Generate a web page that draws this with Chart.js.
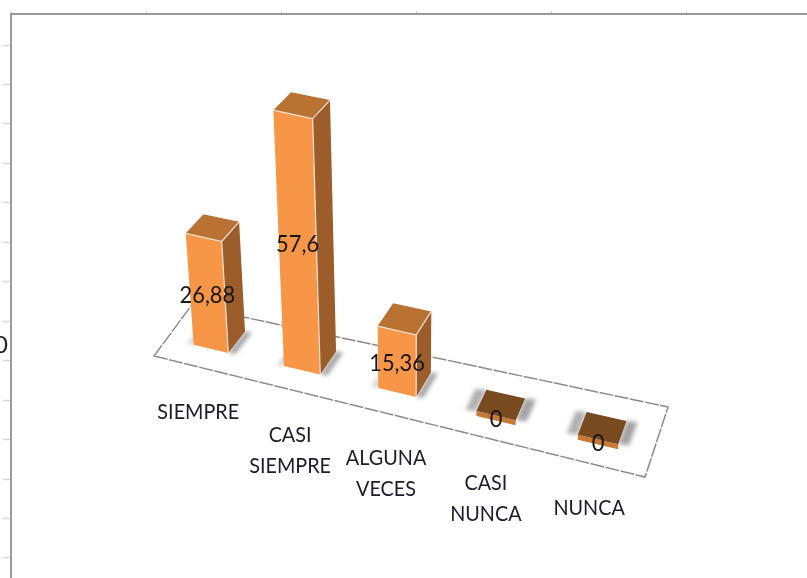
<!DOCTYPE html>
<html>
<head>
<meta charset="utf-8">
<style>html,body{margin:0;padding:0;background:#fff}canvas{display:block}</style>
<script src="https://cdn.jsdelivr.net/npm/chart.js@4"></script>
</head>
<body>
<canvas id="c" width="807" height="578"></canvas>
<script>
const categories = ['SIEMPRE', ['CASI', 'SIEMPRE'], ['ALGUNA', 'VECES'], ['CASI', 'NUNCA'], 'NUNCA'];
const values = [26.88, 57.6, 15.36, 0, 0];
const valueLabels = ['26,88', '57,6', '15,36', '0', '0'];

const FRONT = '#F79646', TOP = '#B97232', SIDE = '#9C5D2A', ZERO_TOP = '#784A20', ZERO_LIP = '#C87A34';
const LABEL_FONT = 'Lato, sans-serif';

// floor plane: unit square -> screen
const H = {a:344.3, b:44.7, c:154, d:12.5, e:-37.7, f:356, g:-0.2275, h:0.0403};
function floor(u, w) {
  const q = H.g*u + H.h*w + 1;
  return {x:(H.a*u + H.b*w + H.c)/q, y:(H.d*u + H.e*w + H.f)/q};
}
// category axis fraction -> floor u
const warp = c => 1.153*c - 0.158*c*c;
// raise a floor point by a height in scale pixels, with vertical perspective
function lift(p, h) {
  const s = h/(1 - h/2000);
  return {x:p.x + (410 - p.x)*s/(p.y - 3400), y:p.y - s};
}
function poly(ctx, pts, fill, stroke) {
  ctx.beginPath();
  pts.forEach((p,i)=> i ? ctx.lineTo(p.x,p.y) : ctx.moveTo(p.x,p.y));
  ctx.closePath();
  if (fill) { ctx.fillStyle = fill; ctx.fill(); }
  if (stroke) { ctx.strokeStyle = stroke; ctx.lineWidth = 1.5; ctx.stroke(); }
}
function text(ctx, t, x, y, sx) {
  ctx.save();
  ctx.translate(x, y);
  ctx.scale(sx, 1);
  ctx.fillText(t, 0, 0);
  ctx.restore();
}
const W0 = 0.34, W1 = 0.75, W1_ZERO = 0.68;

const bars3d = {
  id:'bars3d',
  beforeDatasetDraw(chart, args) {
    const ctx = chart.ctx, area = chart.chartArea;
    const meta = chart.getDatasetMeta(args.index);
    const frac = px => (px - area.left)/area.width;
    ctx.save();
    // floor
    ctx.setLineDash([14,1.5]);
    poly(ctx, [floor(0,0),floor(1,0),floor(1,1),floor(0,1)], '#fff', '#8c8c8c');
    ctx.setLineDash([]);
    const geo = meta.data.map(el => {
      const p = el.getProps(['x','y','base','width'], true);
      const uL = warp(frac(p.x - p.width/2)), uR = warp(frac(p.x + p.width/2));
      const h = p.base - p.y;
      const w1 = h > 0 ? W1 : W1_ZERO, nudge = h > 0 ? 2 : 0;
      const bl = floor(uL,w1), br = floor(uR,w1);
      bl.x += nudge; br.x += nudge;
      return {h, uC:warp(frac(p.x)), fl:floor(uL,W0), fr:floor(uR,W0), bl, br};
    });
    // contact shadows
    ctx.save();
    ctx.filter = 'blur(2px)';
    geo.forEach(g => {
      const d = g.h > 0 ? 7 : 11;
      poly(ctx, [g.fr,g.br,{x:g.br.x+d,y:g.br.y+1},{x:g.fr.x+d,y:g.fr.y+1}], '#a3a3a3');
      poly(ctx, [g.fl,g.bl,{x:g.bl.x-d,y:g.bl.y-1},{x:g.fl.x-d,y:g.fl.y-1}], g.h > 0 ? '#d4d4d4' : '#b0b0b0');
    });
    ctx.restore();
    // bars
    geo.forEach(g => {
      const tfl=lift(g.fl,g.h), tfr=lift(g.fr,g.h), tbl=lift(g.bl,g.h*0.985), tbr=lift(g.br,g.h*0.985);
      if (g.h > 0) {
        poly(ctx,[g.fl,g.fr,tfr,tfl],FRONT);
        poly(ctx,[g.fr,g.br,tbr,tfr],SIDE);
        poly(ctx,[tfl,tfr,tbr,tbl],TOP);
        ctx.strokeStyle='rgba(255,255,255,0.75)'; ctx.lineWidth=1.2;
        ctx.beginPath();
        ctx.moveTo(g.fr.x,g.fr.y); ctx.lineTo(tfr.x,tfr.y);
        ctx.lineTo(tfl.x,tfl.y); ctx.moveTo(tfr.x,tfr.y); ctx.lineTo(tbr.x,tbr.y);
        ctx.stroke();
      } else {
        poly(ctx,[g.fl,g.fr,{x:g.fr.x,y:g.fr.y+5},{x:g.fl.x,y:g.fl.y+5}],ZERO_LIP);
        poly(ctx,[g.fl,g.fr,g.br,g.bl],ZERO_TOP);
      }
    });
    // value labels, centred on front faces
    ctx.fillStyle='#161616'; ctx.textAlign='center'; ctx.textBaseline='middle';
    ctx.font='23px '+LABEL_FONT;
    geo.forEach((g,i)=>{
      const tl=lift(g.fl,g.h), tr=lift(g.fr,g.h);
      const cx=(g.fl.x+g.fr.x+tl.x+tr.x)/4, cy=(g.fl.y+g.fr.y+tl.y+tr.y)/4;
      text(ctx, valueLabels[i], cx, cy+2+(g.h>0?0:2), 0.95);
    });
    // category labels under the floor's front edge
    ctx.font='22px '+LABEL_FONT; ctx.fillStyle='#1c1c2c';
    chart.data.labels.forEach((lab,i)=>{
      const foot=floor(geo[i].uC,0);
      [].concat(lab).forEach((t,j)=> text(ctx, t, foot.x, foot.y+45+j*31, 0.9));
    });
    // the value-axis label that is cut by the page edge
    ctx.font='24px '+LABEL_FONT; ctx.fillStyle='#222';
    ctx.fillText('0',1,345);
    ctx.restore();
    return false;
  }
};

new Chart(document.getElementById('c'), {
  type:'bar',
  data:{labels:categories, datasets:[{label:'Serie 1', data:values, backgroundColor:FRONT,
    barPercentage:0.39, categoryPercentage:1, xAxisID:'x', yAxisID:'y'}]},
  plugins:[bars3d],
  options:{
    responsive:false, animation:false,
    layout:{padding:0},
    plugins:{legend:{display:false}, tooltip:{enabled:false}, title:{display:false}},
    scales:{
      x:{display:false, position:'bottom'},
      y:{position:'left', min:-5.07, max:137.86,
        afterBuildTicks(ax){ ax.ticks=[0,10,20,30,40,50,60,70,80,90,100,110,120,130].map(value=>({value})); },
        afterFit(ax){ ax.width=10.5; },
        ticks:{display:false},
        grid:{drawOnChartArea:false, drawTicks:true, tickLength:8, tickColor:'#d3d8e8', tickWidth:1.5},
        border:{color:'#9a9a9a', width:2}},
      xTop:{type:'linear', position:'top', min:-0.011, max:5.889, offset:false,
        afterBuildTicks(ax){ ax.ticks=[0,1,2,3,4,5].map(value=>({value})); },
        afterFit(ax){ ax.height=14; },
        ticks:{display:false},
        grid:{offset:false, drawOnChartArea:false, drawTicks:true, tickLength:3, tickColor:'#c9cdd8', tickWidth:1},
        border:{color:'#9a9a9a', width:2}}
    }
  }
});
</script>
</body>
</html>
